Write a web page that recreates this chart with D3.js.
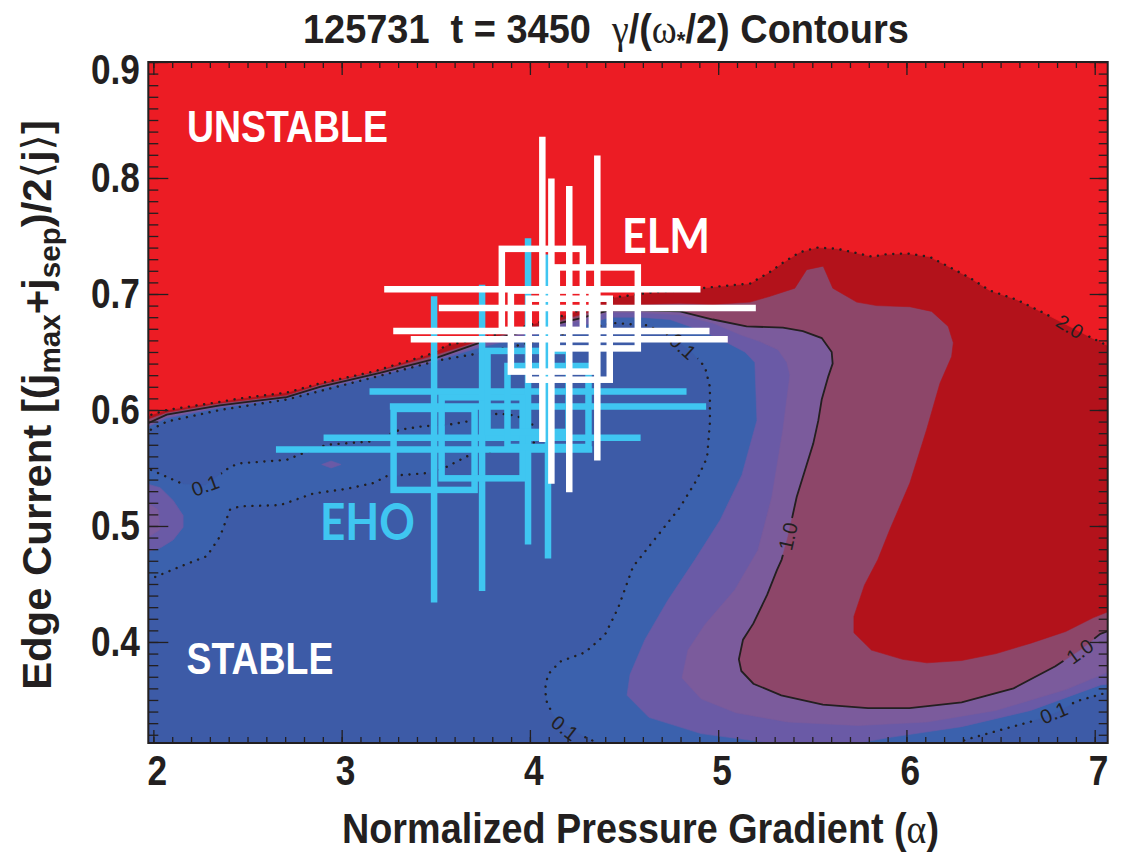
<!DOCTYPE html>
<html><head><meta charset="utf-8">
<script src="https://cdn.jsdelivr.net/npm/d3@7"></script>
<style>
html,body{margin:0;padding:0;background:#fff;}
svg{display:block;}
</style></head><body>
<svg id="chart" width="1124" height="853"></svg>
<script>
// ---------------- data ----------------
const xDomain = [1.973, 7.069];           // normalized pressure gradient (alpha)
const yDomain = [0.3129, 0.9];            // edge current
const xTicks = [2, 3, 4, 5, 6, 7];
const yTicks = [0.4, 0.5, 0.6, 0.7, 0.8, 0.9];

// EHO discharge points (alpha, edge current, error half-widths)
const ehoAlpha    = [3.491, 3.746, 3.990, 4.096];
const ehoJ        = [0.566, 0.576, 0.616, 0.603];
const ehoAlphaErr = [0.840, 0.842, 0.842, 0.840];
const ehoJErr     = [0.132, 0.132, 0.132, 0.131];

// ELM discharge points
const elmAlpha    = [4.066, 4.114, 4.209, 4.358];
const elmJ        = [0.704, 0.668, 0.661, 0.688];
const elmAlphaErr = [0.840, 0.840, 0.842, 0.842];
const elmJErr     = [0.1315, 0.1315, 0.132, 0.1315];

// growth-rate contour lines  [alpha, j]
const contour2p0 = [[1.95,0.594],[2.071,0.600],[2.354,0.607],[2.460,0.610],[2.708,0.615],[2.885,0.623],[3.167,0.633],[3.346,0.642],[3.485,0.649],[3.560,0.656],[3.698,0.660],[3.770,0.663],[3.947,0.671],[4.213,0.683],[4.441,0.697],[4.548,0.699],[4.622,0.701],[4.797,0.703],[4.972,0.706],[5.169,0.709],[5.275,0.719],[5.344,0.727],[5.434,0.736],[5.524,0.740],[5.631,0.739],[5.716,0.736],[5.822,0.732],[5.875,0.734],[6.002,0.735],[6.124,0.732],[6.231,0.723],[6.337,0.714],[6.443,0.703],[6.587,0.695],[6.725,0.684],[6.868,0.672],[6.974,0.663],[7.1,0.653]];

const contour1p0 = [[1.95,0.587],[2.071,0.596],[2.354,0.604],[2.708,0.611],[2.885,0.620],[3.204,0.632],[3.469,0.643],[3.735,0.658],[4.054,0.671],[4.266,0.679],[4.425,0.686],[4.585,0.686],[4.797,0.685],[4.972,0.678],[5.151,0.672],[5.344,0.671],[5.450,0.668],[5.550,0.662],[5.603,0.650],[5.608,0.640],[5.585,0.629],[5.550,0.609],[5.532,0.591],[5.505,0.571],[5.461,0.548],[5.417,0.525],[5.371,0.491],[5.337,0.471],[5.312,0.462],[5.261,0.441],[5.187,0.416],[5.132,0.402],[5.110,0.385],[5.123,0.375],[5.187,0.364],[5.335,0.354],[5.556,0.346],[5.796,0.343],[6.016,0.343],[6.293,0.348],[6.569,0.360],[6.791,0.379],[6.921,0.393],[7.030,0.407],[7.1,0.411]];

const contour0p1 = [[1.95,0.580],[2.071,0.590],[2.354,0.600],[2.708,0.609],[3.167,0.628],[3.523,0.643],[3.735,0.649],[3.947,0.656],[4.160,0.665],[4.441,0.675],[4.622,0.673],[4.760,0.663],[4.866,0.649],[4.930,0.637],[4.956,0.620],[4.956,0.589],[4.941,0.559],[4.887,0.540],[4.797,0.516],[4.675,0.491],[4.548,0.465],[4.468,0.429],[4.398,0.406],[4.293,0.391],[4.160,0.383],[4.096,0.372],[4.080,0.359],[4.091,0.347],[4.133,0.335],[4.303,0.317],[4.362,0.313],[4.40,0.309]];

const contour0p1Corner = [[6.231,0.310],[6.273,0.313],[6.320,0.316],[6.408,0.320],[6.496,0.324],[6.585,0.328],[6.656,0.331],[6.794,0.339],[6.904,0.349],[7.1,0.358]];

const contour0p1Tongue = [[1.95,0.551],[2.159,0.536],[2.275,0.535],[2.408,0.551],[2.460,0.554],[2.708,0.557],[2.815,0.564],[2.921,0.570],[3.168,0.573],[3.310,0.583],[3.434,0.586],[3.558,0.587],[3.664,0.590],[3.832,0.597],[3.930,0.595],[4.010,0.588],[4.054,0.578],[4.000,0.568],[3.788,0.564],[3.664,0.560],[3.558,0.551],[3.487,0.546],[3.329,0.544],[3.240,0.543],[3.168,0.537],[3.027,0.532],[2.850,0.528],[2.673,0.518],[2.460,0.517],[2.407,0.514],[2.354,0.491],[2.284,0.474],[2.142,0.465],[2.009,0.456],[1.95,0.454]];

// edges of the intermediate shaded bands
const band0p3Edge = [[1.95,0.584],[2.071,0.593],[2.354,0.602],[2.708,0.610],[2.885,0.618],[3.204,0.630],[3.469,0.641],[3.735,0.654],[4.054,0.666],[4.266,0.672],[4.425,0.680],[4.585,0.680],[4.744,0.678],[4.903,0.669],[5.036,0.659],[5.142,0.650],[5.195,0.641],[5.206,0.591],[5.126,0.544],[5.010,0.505],[4.877,0.471],[4.733,0.436],[4.611,0.402],[4.532,0.372],[4.516,0.354],[4.632,0.335],[4.909,0.321],[5.184,0.315],[5.381,0.310],[5.647,0.310],[5.922,0.318],[6.294,0.327],[6.661,0.341],[7.032,0.363],[7.1,0.364]];

const band0p6Edge = [[1.95,0.585],[2.071,0.594],[2.354,0.603],[2.708,0.611],[2.885,0.619],[3.204,0.631],[3.469,0.642],[3.735,0.656],[4.054,0.669],[4.266,0.677],[4.425,0.684],[4.585,0.684],[4.797,0.682],[4.972,0.675],[5.116,0.665],[5.222,0.659],[5.318,0.652],[5.365,0.641],[5.381,0.630],[5.344,0.583],[5.285,0.525],[5.211,0.479],[5.089,0.445],[4.930,0.415],[4.840,0.393],[4.808,0.369],[4.909,0.351],[5.094,0.339],[5.370,0.331],[5.742,0.328],[6.109,0.331],[6.475,0.341],[6.847,0.359],[7.1,0.376]];

const band1p5Edge = [[1.95,0.591],[2.071,0.598],[2.354,0.606],[2.708,0.613],[2.885,0.622],[3.204,0.634],[3.469,0.646],[3.735,0.660],[4.054,0.673],[4.266,0.682],[4.425,0.690],[4.797,0.692],[4.972,0.691],[5.169,0.693],[5.275,0.698],[5.407,0.705],[5.470,0.721],[5.558,0.724],[5.609,0.705],[5.736,0.693],[5.842,0.690],[6.018,0.689],[6.134,0.685],[6.222,0.672],[6.249,0.658],[6.240,0.646],[6.178,0.623],[6.107,0.583],[6.018,0.537],[5.912,0.497],[5.848,0.471],[5.777,0.449],[5.721,0.422],[5.721,0.408],[5.814,0.393],[5.980,0.385],[6.109,0.382],[6.293,0.384],[6.477,0.390],[6.661,0.399],[6.846,0.409],[6.993,0.421],[7.1,0.428]];

// small isolated islands near the left edge
const islandOuter = [[1.95,0.537],[2.036,0.533],[2.105,0.522],[2.158,0.509],[2.158,0.499],[2.105,0.488],[2.036,0.481],[1.95,0.477]];
const islandInner = [[1.95,0.522],[2.025,0.514],[2.036,0.497],[1.95,0.488]];
const islandSmall = [[2.894,0.553],[2.944,0.556],[2.997,0.553],[2.944,0.550]];

// contour labels
const labelText  = ["2.0", "1.0", "1.0", "0.1", "0.1", "0.1", "0.1"];
const labelAlpha = [6.868, 5.370, 6.921, 2.275, 4.813, 4.186, 6.783];
const labelJ     = [0.672, 0.491, 0.392, 0.535, 0.655, 0.326, 0.339];
const labelAngle = [32, -77, -36, -20, 42, 38, -23];

// ---------------- setup ----------------
const W = 1124, H = 853;
const L = 148.3, R = 1107.7, T = 62, B = 743;
const INK = "#231f20";
const SANS = "'Liberation Sans',Arial,Helvetica,sans-serif";
const SERIF = "'Liberation Serif','DejaVu Serif',serif";
const SQUEEZE = 0.84;   // horizontal compression of the bold lettering

const svg = d3.select("#chart");
const x = d3.scaleLinear().domain(xDomain).range([L, R]);
const y = d3.scaleLinear().domain(yDomain).range([B, T]);
const line = d3.line().x(d => x(d[0])).y(d => y(d[1]));
const poly = pts => line(pts) + "Z";

const defs = svg.append("defs");
defs.append("clipPath").attr("id", "plotclip")
  .append("rect").attr("x", L).attr("y", T).attr("width", R - L).attr("height", B - T);

// ---------------- filled bands ----------------
const top2 = [[7.1, 0.95], [1.95, 0.95]];
const fillLayers = [
  { color: "#3b61ad", shapes: [
      [[1.95, 0.95], ...contour0p1, [4.40, 0.29], [6.231, 0.29], ...contour0p1Corner, [7.1, 0.95]],
      contour0p1Tongue ] },
  { color: "#6a5aa6", shapes: [[...band0p3Edge, ...top2], islandOuter, islandSmall] },
  { color: "#7b5b9c", shapes: [[...band0p6Edge, ...top2], islandInner] },
  { color: "#8d4669", shapes: [[...contour1p0, ...top2]] },
  { color: "#b3121b", shapes: [[...band1p5Edge, ...top2]] },
  { color: "#ec1c24", shapes: [[...contour2p0, ...top2]] }
];

const fills = svg.append("g").attr("clip-path", "url(#plotclip)");
fills.append("rect").attr("x", L).attr("y", T).attr("width", R - L).attr("height", B - T).attr("fill", "#3d5ba7");
fillLayers.forEach(layer => {
  fills.append("g").selectAll("path").data(layer.shapes).join("path")
    .attr("d", poly).attr("fill", layer.color).attr("stroke", layer.color).attr("stroke-width", 0.6);
});

// ---------------- contour lines (gaps left at the labels) ----------------
const mask = defs.append("mask").attr("id", "lblmask").attr("maskUnits", "userSpaceOnUse")
  .attr("x", 0).attr("y", 0).attr("width", W).attr("height", H);
mask.append("rect").attr("width", W).attr("height", H).attr("fill", "white");
labelText.forEach((t, i) => {
  mask.append("rect").attr("x", -19).attr("y", -10).attr("width", 38).attr("height", 20).attr("fill", "black")
    .attr("transform", `translate(${x(labelAlpha[i])},${y(labelJ[i])}) rotate(${labelAngle[i]})`);
});

const linesG = svg.append("g").attr("clip-path", "url(#plotclip)")
  .append("g").attr("mask", "url(#lblmask)").attr("fill", "none").attr("stroke", INK);
const dotted = [contour2p0, contour0p1, contour0p1Corner, contour0p1Tongue];
linesG.selectAll("path.dot").data(dotted).join("path").attr("class", "dot")
  .attr("d", line).attr("stroke-width", 2.4).attr("stroke-linecap", "round")
  .attr("stroke-dasharray", "0.1 7.6");
linesG.append("path").attr("d", line(contour1p0)).attr("stroke-width", 1.8);

svg.append("g").selectAll("text").data(labelText).join("text")
  .attr("transform", (d, i) => `translate(${x(labelAlpha[i])},${y(labelJ[i])}) rotate(${labelAngle[i]})`)
  .attr("text-anchor", "middle").attr("dy", "0.36em")
  .attr("font-family", SANS).attr("font-size", 20).attr("fill", INK).text(d => d);

// ---------------- data points: boxes and error bars ----------------
const BOX = 81;
function drawPoints(alpha, jv, aErr, jErr, color) {
  const pts = alpha.map((a, i) => ({ a, j: jv[i], ea: aErr[i], ej: jErr[i] }));
  const g = svg.append("g").attr("stroke", color).attr("fill", "none").attr("stroke-width", 6.5);
  g.selectAll("line.h").data(pts).join("line").attr("class", "h")
    .attr("x1", d => x(d.a - d.ea)).attr("x2", d => x(d.a + d.ea))
    .attr("y1", d => y(d.j)).attr("y2", d => y(d.j));
  g.selectAll("line.v").data(pts).join("line").attr("class", "v")
    .attr("x1", d => x(d.a)).attr("x2", d => x(d.a))
    .attr("y1", d => y(d.j - d.ej)).attr("y2", d => y(d.j + d.ej));
  g.selectAll("rect").data(pts).join("rect")
    .attr("x", d => x(d.a) - BOX / 2).attr("y", d => y(d.j) - BOX / 2)
    .attr("width", BOX).attr("height", BOX);
}
drawPoints(ehoAlpha, ehoJ, ehoAlphaErr, ehoJErr, "#3fc6f1");
drawPoints(elmAlpha, elmJ, elmAlphaErr, elmJErr, "#ffffff");

// ---------------- text fitted to a given width ----------------
function fitText(px, py, rot, anchor, size, width, opts, build) {
  const outer = svg.append("g").attr("transform", `translate(${px},${py}) rotate(${rot})`);
  const inner = outer.append("g");
  const t = inner.append("text").attr("text-anchor", anchor)
    .attr("font-family", opts.family || SANS).attr("font-weight", opts.weight || "bold")
    .attr("font-size", size).attr("fill", opts.fill || INK).style("white-space", "pre");
  build(t);
  const len = t.node().getComputedTextLength();
  if (len > 0) inner.attr("transform", `scale(${width / len},1)`);
  return t;
}

// region annotations
fitText(187, 141.5, 0, "start", 44, 201, { fill: "#ffffff" }, t => t.text("UNSTABLE"));
fitText(186.5, 674, 0, "start", 44, 147, { fill: "#ffffff" }, t => t.text("STABLE"));
fitText(622, 252.5, 0, "start", 48, 88, { fill: "#ffffff", family: "Lato,'Open Sans',sans-serif", weight: 700 }, t => t.text("ELM"));
fitText(320, 540, 0, "start", 51, 95, { fill: "#3fc6f1", family: "Lato,'Open Sans',sans-serif", weight: 700 }, t => t.text("EHO"));

// ---------------- axes ----------------
function axis(gen, tr) {
  const g = svg.append("g").attr("transform", tr).call(gen);
  g.select(".domain").remove();
  g.selectAll("line").attr("stroke", INK).attr("stroke-width", 1.3);
  g.selectAll("text").attr("fill", INK).attr("font-family", SANS).attr("font-weight", "bold")
    .attr("font-size", 42).attr("transform", `scale(${SQUEEZE},1)`);
  return g;
}
const minorX = d3.range(20, 71).map(d => d / 10);
const minorY = d3.range(32, 91).map(d => d / 100);
axis(d3.axisBottom(x).tickValues(minorX).tickSize(-6).tickSizeOuter(0).tickFormat(""), `translate(0,${B})`);
axis(d3.axisBottom(x).tickValues(xTicks).tickSize(-13).tickSizeOuter(0).tickPadding(12).tickFormat(d3.format("d")), `translate(0,${B})`)
  .selectAll("text").attr("dx", 4);
axis(d3.axisTop(x).tickValues(minorX).tickSize(-6).tickSizeOuter(0).tickFormat(""), `translate(0,${T})`);
axis(d3.axisTop(x).tickValues(xTicks).tickSize(-13).tickSizeOuter(0).tickFormat(""), `translate(0,${T})`);
axis(d3.axisLeft(y).tickValues(minorY).tickSize(-10).tickSizeOuter(0).tickFormat(""), `translate(${L},0)`);
const yAx = axis(d3.axisLeft(y).tickValues(yTicks).tickSize(-20).tickSizeOuter(0).tickPadding(10).tickFormat(d3.format(".1f")), `translate(${L},0)`);
yAx.selectAll("text").filter(d => d === 0.9).attr("dy", "0.52em");
axis(d3.axisRight(y).tickValues(minorY).tickSize(-9).tickSizeOuter(0).tickFormat(""), `translate(${R},0)`);
axis(d3.axisRight(y).tickValues(yTicks).tickSize(-18).tickSizeOuter(0).tickFormat(""), `translate(${R},0)`);

svg.append("rect").attr("x", L).attr("y", T).attr("width", R - L).attr("height", B - T)
  .attr("fill", "none").attr("stroke", INK).attr("stroke-width", 2);

// ---------------- titles ----------------
fitText(303, 43, 0, "start", 41, 606, {}, t => {
  t.append("tspan").text("125731  t = 3450  ");
  t.append("tspan").attr("font-family", SERIF).attr("font-weight", "normal").text("γ");
  t.append("tspan").text("/(");
  t.append("tspan").attr("font-family", SERIF).attr("font-weight", "normal").text("ω");
  t.append("tspan").attr("font-size", 24).attr("dy", 6).text("*");
  t.append("tspan").attr("dy", -6).text("/2) Contours");
});

fitText(640.5, 843, 0, "middle", 42, 597, {}, t => {
  t.append("tspan").text("Normalized Pressure Gradient (");
  t.append("tspan").attr("font-family", SERIF).attr("font-weight", "normal").text("α");
  t.append("tspan").text(")");
});

fitText(51, 405, -90, "middle", 41, 570, {}, t => {
  t.append("tspan").text("Edge Current [(j");
  t.append("tspan").attr("font-size", 29).attr("dy", 9).text("max");
  t.append("tspan").attr("dy", -9).text("+j");
  t.append("tspan").attr("font-size", 29).attr("dy", 9).text("sep");
  t.append("tspan").attr("dy", -9).text(")/2");
  t.append("tspan").attr("font-family", SERIF).attr("font-weight", "normal").text("⟨");
  t.append("tspan").text("j");
  t.append("tspan").attr("font-family", SERIF).attr("font-weight", "normal").text("⟩");
  t.append("tspan").text("]");
});
</script>
</body></html>
